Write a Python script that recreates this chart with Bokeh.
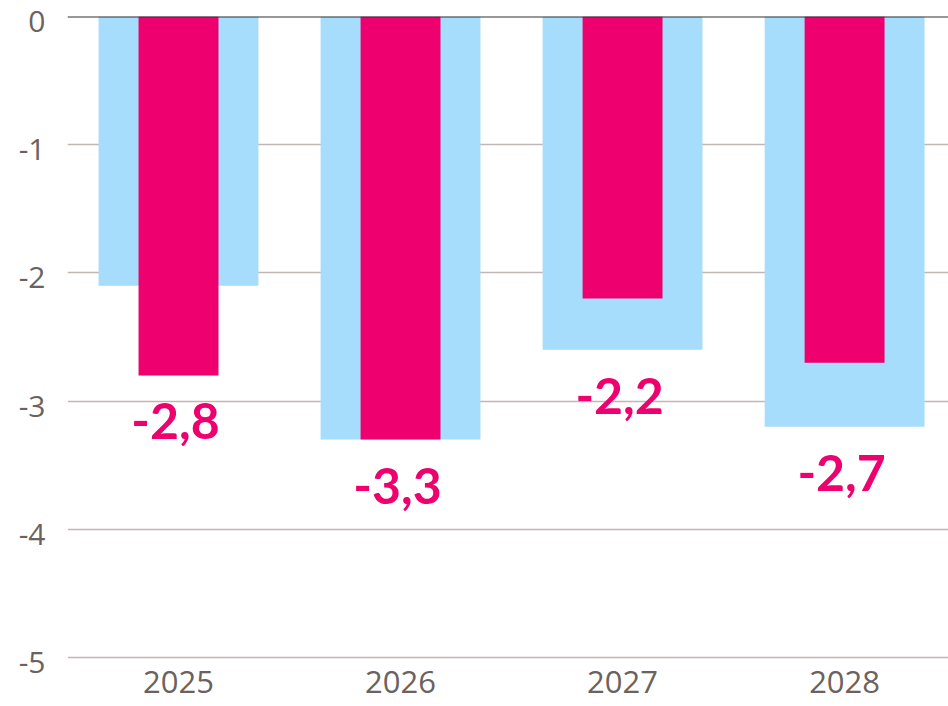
from bokeh.plotting import figure
from bokeh.models import (ColumnDataSource, FixedTicker, Span, Range1d,
                          LabelSet, LinearAxis)
from bokeh.core.properties import value
from bokeh.embed import file_html
from bokeh.resources import INLINE

years = ["2025", "2026", "2027", "2028"]
blue_values = [-2.1, -3.3, -2.6, -3.2]
pink_values = [-2.8, -3.3, -2.2, -2.7]
pink_labels = ["-2,8", "-3,3", "-2,2", "-2,7"]
y_ticks = [0, -1, -2, -3, -4, -5]

xs = list(range(len(years)))
label_y = [min(b, p) for b, p in zip(blue_values, pink_values)]

src = ColumnDataSource(dict(x=xs, blue=blue_values, pink=pink_values,
                            ly=label_y, lab=pink_labels))

y_lo, y_hi = -5.078, 0.0
shift = 5 / 128.2  # tick labels sit ~5px below their gridlines

p = figure(width=948, height=706, output_backend="svg", toolbar_location=None,
           x_range=Range1d(-0.5, 3.468), y_range=Range1d(y_lo, y_hi),
           min_border_left=67, min_border_right=0, min_border_top=16,
           min_border_bottom=39, y_axis_location=None)
p.extra_y_ranges = {"lab": Range1d(y_lo + shift, y_hi + shift)}
p.outline_line_color = None
p.background_fill_color = "white"
p.border_fill_color = "white"

p.vbar(x="x", top=0, bottom="blue", width=0.72, source=src,
       fill_color="#a6dcfc", line_color=None)
p.vbar(x="x", top=0, bottom="pink", width=0.36, source=src,
       fill_color="#ee006e", line_color=None)

labels = LabelSet(x="x", y="ly", text="lab", source=src,
                  text_align=value("center"), text_baseline=value("top"),
                  x_offset=-3, y_offset=-28, text_color=value("#ee006e"),
                  text_font=value("Lato"), text_font_style=value("bold"),
                  text_font_size=value("50px"))
p.add_layout(labels)

p.add_layout(Span(location=0, dimension="width", line_color="#333333",
                  line_width=2))

p.xgrid.grid_line_color = None
p.ygrid.grid_line_color = "#c2b6b2"
p.ygrid.grid_line_width = 1.5
p.ygrid.ticker = FixedTicker(ticks=y_ticks)

yax = LinearAxis(y_range_name="lab", ticker=FixedTicker(ticks=y_ticks))
yax.major_label_overrides = {t: str(t) for t in y_ticks}
p.add_layout(yax, "left")

p.xaxis.ticker = FixedTicker(ticks=xs)
p.xaxis.major_label_overrides = {i: y for i, y in enumerate(years)}

for ax in (p.xaxis[0], yax):
    ax.axis_line_color = None
    ax.major_tick_line_color = None
    ax.minor_tick_line_color = None
    ax.major_label_text_color = "#6b6260"
    ax.major_label_text_font = "Open Sans"
yax.major_label_text_font_size = "30px"
yax.major_label_standoff = 16
p.xaxis.major_label_text_font_size = "31px"
p.xaxis.major_label_standoff = -3

open("out.html", "w").write(file_html(p, INLINE))
